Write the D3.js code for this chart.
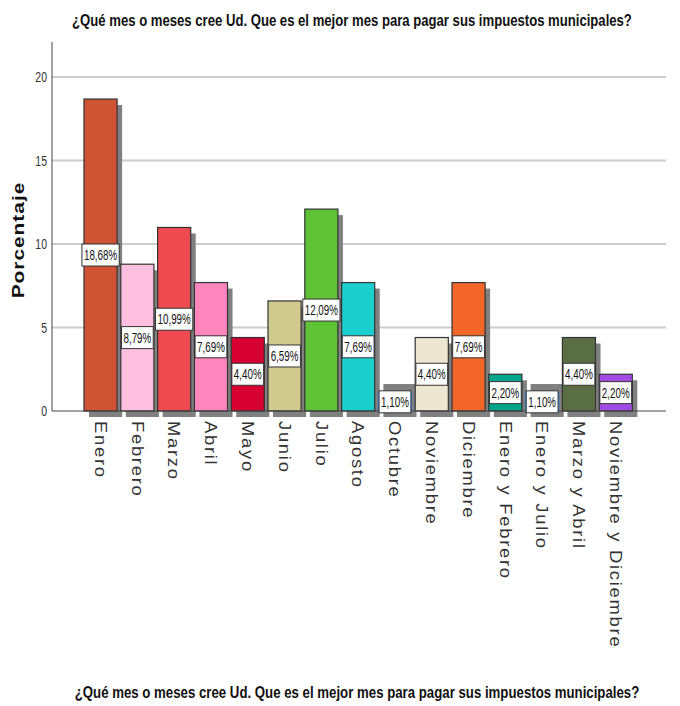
<!DOCTYPE html>
<html>
<head>
<meta charset="utf-8">
<script src="https://cdn.jsdelivr.net/npm/d3@7"></script>
<style>
  html, body { margin: 0; padding: 0; background: #fff; }
  svg { display: block; }
</style>
</head>
<body>
<svg id="chart" width="680" height="706"></svg>
<script>
const categories = ["Enero", "Febrero", "Marzo", "Abril", "Mayo", "Junio", "Julio", "Agosto",
  "Octubre", "Noviembre", "Diciembre", "Enero y Febrero", "Enero y Julio", "Marzo y Abril",
  "Noviembre y Diciembre"];
const values = [18.68, 8.79, 10.99, 7.69, 4.40, 6.59, 12.09, 7.69, 1.10, 4.40, 7.69, 2.20, 1.10, 4.40, 2.20];
const valueLabels = ["18,68%", "8,79%", "10,99%", "7,69%", "4,40%", "6,59%", "12,09%", "7,69%",
  "1,10%", "4,40%", "7,69%", "2,20%", "1,10%", "4,40%", "2,20%"];
const colors = ["#CF5434", "#FFC0E0", "#EE4A4F", "#FF86BC", "#D60033", "#D0CA8E", "#5FC236", "#1CCFCF",
  "#FFFFFF", "#ECE6D2", "#F26629", "#00A58C", "#FFFFFF", "#5A6E45", "#A24CE6"];
const yTicks = [0, 5, 10, 15, 20];
const yTickLabels = ["0", "5", "10", "15", "20"];
const titleText = "¿Qué mes o meses cree Ud. Que es el mejor mes para pagar sus impuestos municipales?";
const yTitle = "Porcentaje";

const svg = d3.select("#chart");
const axisX = 52, axisBottom = 411, plotRight = 666;
const font = "Liberation Sans, Arial, sans-serif";

const y = d3.scaleLinear().domain([0, 20]).range([axisBottom, 77]);
const x = d3.scaleBand().domain(categories).range([82.16, 634.16]).paddingInner(0.1).paddingOuter(0.05);

// gridlines
svg.append("g").selectAll("line").data(yTicks.filter(d => d > 0)).join("line")
  .attr("x1", axisX).attr("x2", plotRight)
  .attr("y1", d => y(d)).attr("y2", d => y(d))
  .attr("stroke", "#cccccc").attr("stroke-width", 2);

// shadows
const minShadow = 33;
svg.append("g").selectAll("rect").data(values).join("rect")
  .attr("x", (d, i) => x(categories[i]) + 5)
  .attr("y", d => Math.min(y(d), axisBottom - minShadow) + 6)
  .attr("width", x.bandwidth())
  .attr("height", d => Math.max(axisBottom - y(d), minShadow))
  .attr("fill", "#808080");

// axis lines
svg.append("line").attr("x1", axisX).attr("x2", axisX).attr("y1", 42).attr("y2", axisBottom)
  .attr("stroke", "#444").attr("stroke-width", 1);

// bars
svg.append("g").selectAll("rect").data(values).join("rect")
  .attr("x", (d, i) => x(categories[i]))
  .attr("y", d => y(d))
  .attr("width", x.bandwidth())
  .attr("height", d => axisBottom - y(d))
  .attr("fill", (d, i) => colors[i])
  .attr("stroke", (d, i) => colors[i] === "#FFFFFF" ? "#3a80d8" : "#333")
  .attr("stroke-width", 1.2);

svg.append("line").attr("x1", axisX).attr("x2", plotRight).attr("y1", axisBottom).attr("y2", axisBottom)
  .attr("stroke", "#444").attr("stroke-width", 1);

// value label boxes
const sx = 0.7;
const lab = svg.append("g").selectAll("g").data(values).join("g")
  .attr("transform", (d, i) => `translate(${x(categories[i]) + x.bandwidth() / 2},${y(d / 2)})`);
lab.each(function (d, i) {
  const g = d3.select(this);
  const r = g.append("rect");
  const t = g.append("text")
    .attr("text-anchor", "middle").attr("dy", "0.36em")
    .attr("transform", `scale(${sx},1)`)
    .attr("font-family", font).attr("font-size", 14)
    .attr("fill", "#111").text(valueLabels[i]);
  const w = t.node().getComputedTextLength() * sx + 4;
  r.attr("x", -w / 2).attr("y", -11).attr("width", w).attr("height", 22)
    .attr("fill", "#fff").attr("stroke", "#333").attr("stroke-width", 1);
});

// y tick labels
svg.append("g").selectAll("text").data(yTicks).join("text")
  .attr("transform", d => `translate(47,${y(d)}) scale(0.75,1)`)
  .attr("text-anchor", "end").attr("dy", "0.36em")
  .attr("font-family", font).attr("font-size", 14)
  .attr("fill", "#333").text((d, i) => yTickLabels[i]);

// category labels
svg.append("g").selectAll("text").data(categories).join("text")
  .attr("transform", d => `translate(${x(d) + x.bandwidth() / 2},421) rotate(90) scale(1.15,1)`)
  .attr("dy", "0.36em")
  .attr("font-family", font).attr("font-size", 16)
  .attr("letter-spacing", 1.5)
  .attr("fill", "#333").text(d => d);

// y axis title
svg.append("text")
  .attr("transform", "translate(18,240) rotate(-90) scale(1.3,1)")
  .attr("text-anchor", "middle").attr("dy", "0.36em")
  .attr("font-family", font).attr("font-size", 16)
  .attr("font-weight", "bold").attr("letter-spacing", 0.8)
  .attr("fill", "#111").text(yTitle);

// titles (condensed to match the reference width)
function title(cx, cy, width) {
  const t = svg.append("text")
    .attr("text-anchor", "middle")
    .attr("font-family", font).attr("font-size", 16)
    .attr("font-weight", "bold").attr("fill", "#111").text(titleText);
  const len = t.node().getComputedTextLength();
  t.attr("transform", `translate(${cx},${cy}) scale(${width / len},1)`);
}
title(352, 26, 560);
title(357, 698, 565);
</script>
</body>
</html>
